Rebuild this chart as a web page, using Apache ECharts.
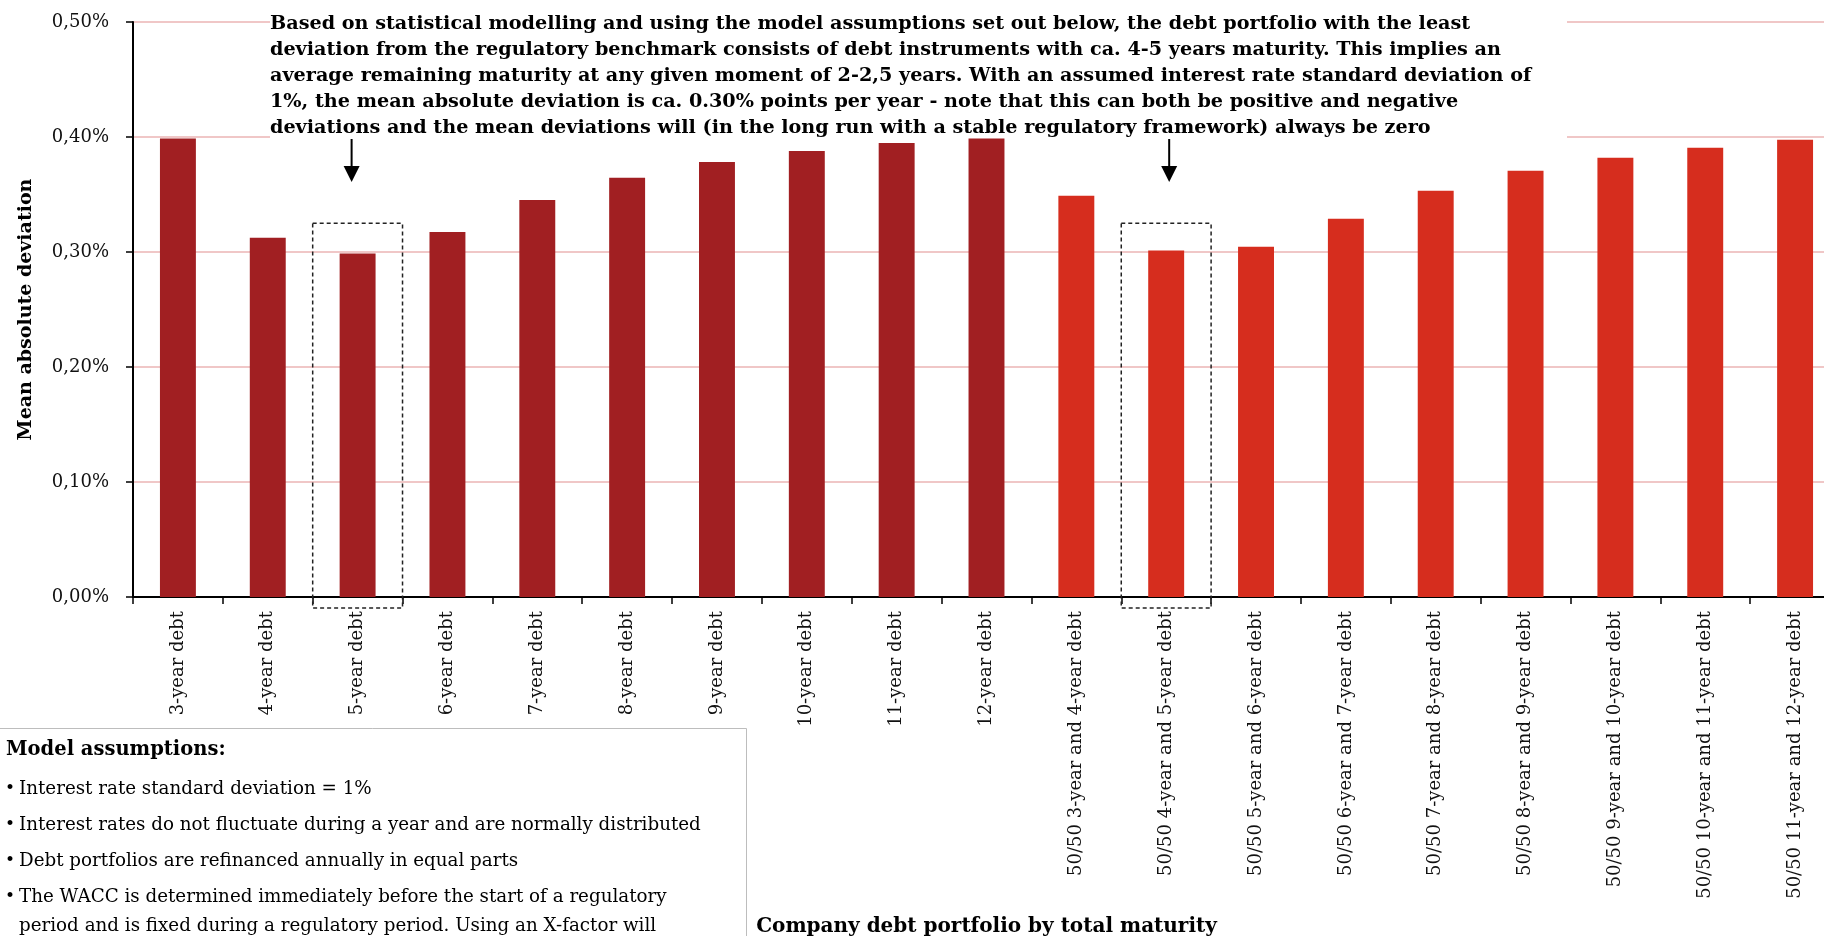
<!DOCTYPE html>
<html>
<head>
<meta charset="utf-8">
<script src="https://cdn.jsdelivr.net/npm/echarts@6/dist/echarts.min.js"></script>
<style>
  html, body { margin: 0; padding: 0; background: #ffffff; }
  #chart { width: 1824px; height: 936px; }
</style>
</head>
<body>
<div id="chart"></div>
<script>
// Debt portfolios, single maturities followed by 50/50 blends
const singleCategories = [
  '3-year debt', '4-year debt', '5-year debt', '6-year debt', '7-year debt',
  '8-year debt', '9-year debt', '10-year debt', '11-year debt', '12-year debt'
];
const blendCategories = [
  '50/50 3-year and 4-year debt', '50/50 4-year and 5-year debt',
  '50/50 5-year and 6-year debt', '50/50 6-year and 7-year debt',
  '50/50 7-year and 8-year debt', '50/50 8-year and 9-year debt',
  '50/50 9-year and 10-year debt', '50/50 10-year and 11-year debt',
  '50/50 11-year and 12-year debt'
];
// Mean absolute deviation, in percentage points
const singleValues = [0.3986, 0.3125, 0.2986, 0.3174, 0.3452, 0.3646, 0.3783, 0.3878, 0.3948, 0.3986];
const blendValues = [0.3490, 0.3012, 0.3046, 0.3290, 0.3533, 0.3707, 0.3820, 0.3907, 0.3977];
const yTickLabels = ['0,00%', '0,10%', '0,20%', '0,30%', '0,40%', '0,50%'];
// Portfolios marked with a dashed frame and an arrow, and the frame's upper value
const highlighted = ['5-year debt', '50/50 4-year and 5-year debt'];
const highlightTop = 0.325;

const annotationLines = [
  'Based on statistical modelling and using the model assumptions set out below, the debt portfolio with the least',
  'deviation from the regulatory benchmark consists of debt instruments with ca. 4-5 years maturity. This implies an',
  'average remaining maturity at any given moment of 2-2,5 years. With an assumed interest rate standard deviation of',
  '1%, the mean absolute deviation is ca. 0.30% points per year - note that this can both be positive and negative',
  'deviations and the mean deviations will (in the long run with a stable regulatory framework) always be zero'
];
const assumptionsTitle = 'Model assumptions:';
const assumptions = [
  ['Interest rate standard deviation = 1%'],
  ['Interest rates do not fluctuate during a year and are normally distributed'],
  ['Debt portfolios are refinanced annually in equal parts'],
  ['The WACC is determined immediately before the start of a regulatory',
   'period and is fixed during a regulatory period. Using an X-factor will',
   'decrease this uncertainty but not remove the uncertainty completely']
];

const DARK = '#A11F22';
const BRIGHT = '#D62D1E';
const SERIF = '"DejaVu Serif", "Liberation Serif", serif';
// Horizontal nudges of the two arrows relative to their bar centres
const arrowShift = [-6, 3];

const categories = singleCategories.concat(blendCategories);
const barData = singleValues.map(v => ({ value: v, itemStyle: { color: DARK } }))
  .concat(blendValues.map(v => ({ value: v, itemStyle: { color: BRIGHT } })));

const chart = echarts.init(document.getElementById('chart'), null, { renderer: 'canvas' });

// Static text blocks: the explanatory note at the top and the assumptions panel
function staticGraphics() {
  const els = [];
  els.push({
    type: 'rect', z: 1, silent: true,
    shape: { x: 270, y: 0, width: 1297, height: 139 },
    style: { fill: '#ffffff' }
  });
  els.push({
    type: 'text', z: 10, silent: true,
    style: {
      x: 270, y: 11, text: annotationLines.join('\n'),
      font: 'bold 19.2px ' + SERIF, fill: '#000000',
      lineHeight: 26, verticalAlign: 'top'
    }
  });
  els.push({
    type: 'rect', z: 10, silent: true,
    shape: { x: -1, y: 728.5, width: 747.5, height: 260 },
    style: { fill: '#ffffff', stroke: '#BDBDBD', lineWidth: 1 }
  });
  els.push({
    type: 'text', z: 11, silent: true,
    style: { x: 6, y: 750, text: assumptionsTitle, font: 'bold 19.5px ' + SERIF,
             fill: '#000000', verticalAlign: 'middle' }
  });
  let y = 789;
  assumptions.forEach(lines => {
    els.push({
      type: 'text', z: 11, silent: true,
      style: { x: 5, y: y, text: '\u2022', font: '17px ' + SERIF, fill: '#000000', verticalAlign: 'middle' }
    });
    lines.forEach((line, i) => {
      els.push({
        type: 'text', z: 11, silent: true,
        style: { x: 19, y: y + i * 29, text: line, font: '18.3px ' + SERIF,
                 fill: '#000000', verticalAlign: 'middle' }
      });
    });
    y += 36 + (lines.length - 1) * 29;
  });
  return els;
}

const option = {
  animation: false,
  backgroundColor: '#ffffff',
  grid: {
    left: 133, right: -16, top: 22, bottom: 339,
    containLabel: false, outerBoundsMode: 'none'
  },
  xAxis: {
    type: 'category',
    data: categories,
    name: 'Company debt portfolio by total maturity',
    nameLocation: 'middle',
    nameGap: 320,
    nameMoveOverlap: false,
    nameTextStyle: { fontFamily: SERIF, fontWeight: 'bold', fontSize: 20, color: '#000000' },
    axisLine: { lineStyle: { color: '#000000', width: 2 } },
    axisTick: { show: true, alignWithLabel: false, length: 7, lineStyle: { color: '#000000', width: 1.5 } },
    axisLabel: {
      interval: 0, rotate: 90, margin: 14,
      fontFamily: SERIF, fontSize: 18, color: '#111111'
    },
    splitLine: { show: false }
  },
  yAxis: {
    type: 'value',
    min: 0, max: 0.5, interval: 0.1,
    name: 'Mean absolute deviation',
    nameLocation: 'middle',
    nameRotate: 90,
    nameGap: 97,
    nameMoveOverlap: false,
    nameTextStyle: { fontFamily: SERIF, fontWeight: 'bold', fontSize: 19, color: '#000000' },
    axisLine: { show: true, lineStyle: { color: '#000000', width: 2 } },
    axisTick: { show: true, length: 7, lineStyle: { color: '#000000', width: 1.5 } },
    axisLabel: {
      margin: 24, fontFamily: SERIF, fontSize: 18, color: '#111111',
      formatter: (v, i) => yTickLabels[i]
    },
    splitLine: { show: true, lineStyle: { color: '#EBB5B5', width: 1.5 } }
  },
  series: [{
    type: 'bar',
    data: barData,
    barWidth: '40%',
    z: 2
  }],
  graphic: { elements: staticGraphics() }
};

chart.setOption(option);

// Dashed frames and arrows placed from the axis scales
function markerGraphics() {
  const els = [];
  highlighted.forEach((cat, k) => {
    const idx = categories.indexOf(cat);
    const cx = chart.convertToPixel({ xAxisIndex: 0 }, cat);
    const band = chart.convertToPixel({ xAxisIndex: 0 }, categories[idx + 1]) - cx;
    const yTop = chart.convertToPixel({ yAxisIndex: 0 }, highlightTop);
    const yZero = chart.convertToPixel({ yAxisIndex: 0 }, 0);
    const ax = cx + arrowShift[k];
    els.push({
      type: 'rect', z: 12, silent: true,
      shape: { x: cx - band / 2, y: yTop, width: band, height: yZero - yTop + 11 },
      style: { fill: null, stroke: '#222222', lineWidth: 1.5, lineDash: [4, 3] }
    });
    els.push({
      type: 'line', z: 12, silent: true,
      shape: { x1: ax, y1: 139, x2: ax, y2: 168 },
      style: { stroke: '#000000', lineWidth: 2 }
    });
    els.push({
      type: 'polygon', z: 12, silent: true,
      shape: { points: [[ax - 8, 166], [ax + 8, 166], [ax, 182]] },
      style: { fill: '#000000' }
    });
  });
  return els;
}

chart.setOption({ graphic: { elements: staticGraphics().concat(markerGraphics()) } });
</script>
</body>
</html>
